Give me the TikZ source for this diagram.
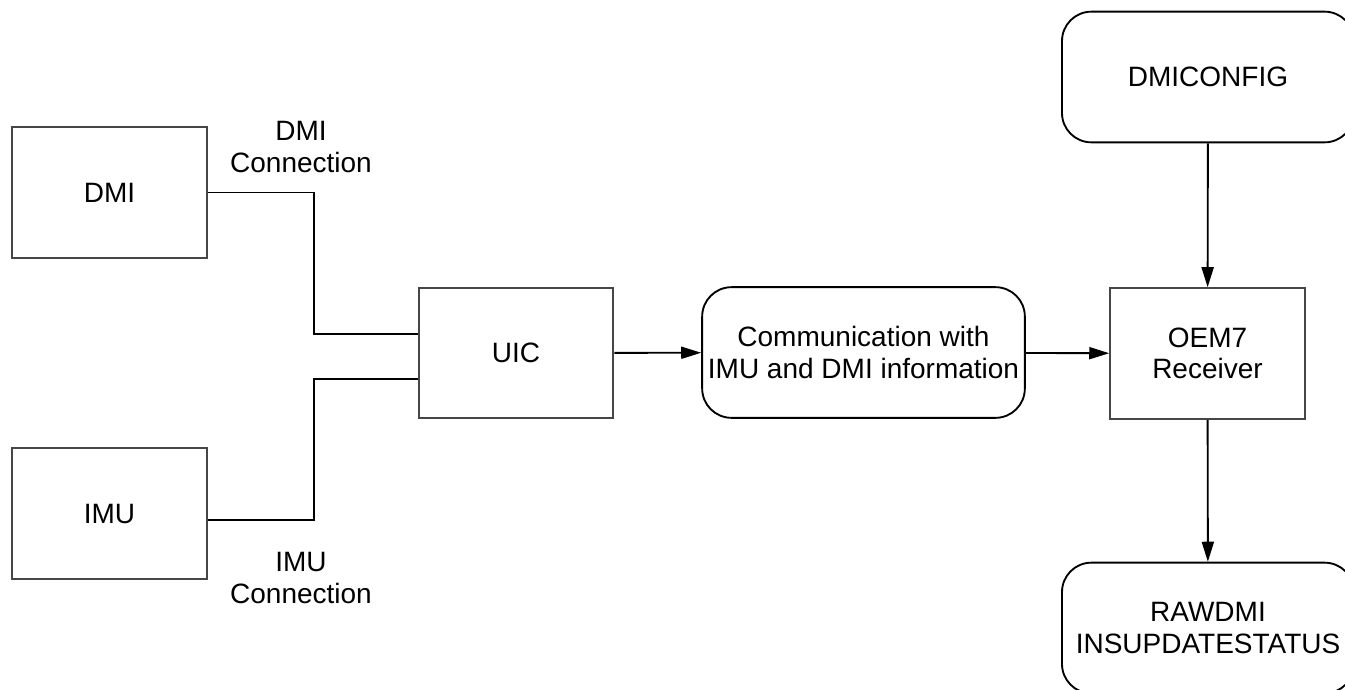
\documentclass[tikz,border=0pt]{standalone}
\usepackage{fontspec}
\setmainfont{Liberation Sans}
\usetikzlibrary{arrows.meta, positioning}
\definecolor{boxc}{RGB}{70,70,70}
\tikzset{
  unit/.style={draw=boxc, line width=1.4pt, minimum width=146pt,
               minimum height=98pt, align=center},
  msg/.style={draw, line width=1.4pt, rounded corners=22pt,
              minimum height=98pt, align=center},
  wire/.style={line width=1.4pt},
  flow/.style={-{Triangle[length=15pt, width=9pt]}, line width=1.4pt},
}

\begin{document}
\begin{tikzpicture}[x=0.75pt, y=-0.75pt,
  every node/.style={font=\fontsize{21}{23.6}\selectfont, align=center}]
  \useasboundingbox (0,0) rectangle (1345,689);

  % hardware
  \node[unit] (dmi) at (109.5,192.5) {DMI};
  \node[unit] (imu) at (109.5,513.5) {IMU};
  \node[unit] (uic) at (516,353) {UIC};
  \node[unit] (oem) at (1207.5,353.5) {OEM7\\Receiver};

  % messages
  \node[msg, minimum width=242pt] (comm) at (863.5,352.5)
    {Communication with\\IMU and DMI information};
  \node[msg, minimum width=219pt] (cfg) at (1208,77) {DMICONFIG};
  \node[msg, minimum width=219pt] (raw) at (1208,628) {RAWDMI\\INSUPDATESTATUS};

  % cable labels
  \node (dmilbl) at (301,147) {DMI\\Connection};
  \node (imulbl) at (301,578) {IMU\\Connection};

  % cables
  \draw[wire] (dmi.east) -- ++(106,0) |- ([yshift=14pt]uic.west);
  \draw[wire] ([yshift=-5pt]imu.east) -- ++(106,0) |- ([yshift=-19.5pt]uic.west);

  % data flow
  \draw[flow] (uic) -- (comm);
  \draw[flow] (comm) -- (oem);
  \draw[flow] (cfg) -- (oem);
  \draw[flow] (oem) -- (raw);
\end{tikzpicture}
\end{document}
